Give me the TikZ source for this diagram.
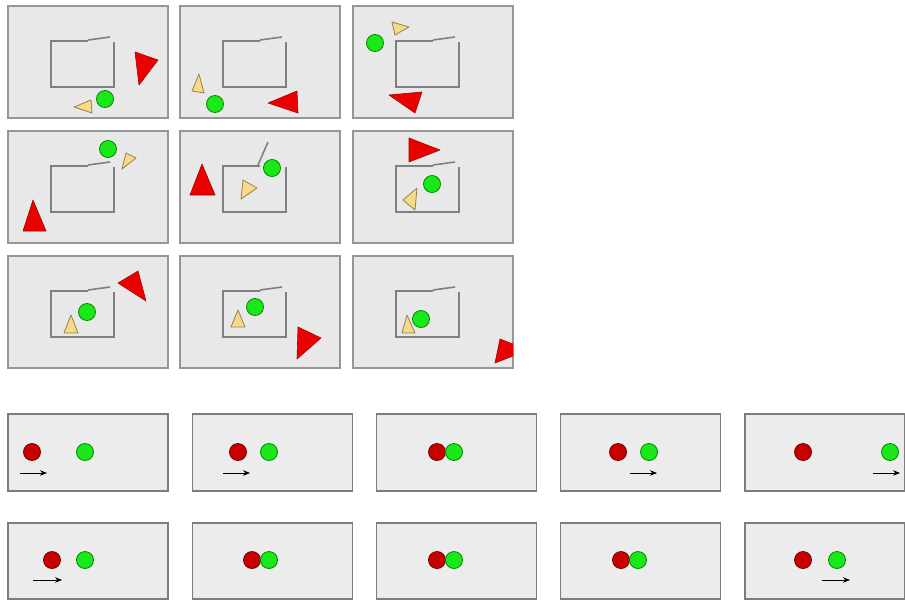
\documentclass[tikz,border=0pt]{standalone}
\usepackage{xcolor}
\usepackage{tikz}
\usetikzlibrary{arrows.meta}

\definecolor{panelgray}{RGB}{232,232,232}
\definecolor{panelline}{RGB}{150,150,150}
\definecolor{crateline}{RGB}{128,128,128}
\definecolor{hunterred}{RGB}{235,0,0}
\definecolor{hunterline}{RGB}{165,0,0}
\definecolor{preyyellow}{RGB}{247,218,135}
\definecolor{preyline}{RGB}{150,128,80}
\definecolor{ballgreen}{RGB}{25,232,25}
\definecolor{ballline}{RGB}{0,135,0}
\definecolor{slabgray}{RGB}{236,236,236}
\definecolor{slabline}{RGB}{125,125,125}
\definecolor{ballred}{RGB}{200,0,0}
\definecolor{ballredline}{RGB}{115,0,0}

\begin{document}
\begin{tikzpicture}[x=1pt,y=-1pt,
    panel/.style={draw=panelline, fill=panelgray, line width=1.2pt},
    crate/.style={draw=crateline, line width=1.6pt},
    hunter/.style={draw=hunterline, fill=hunterred, line width=0.6pt, line join=round},
    prey/.style={draw=preyline, fill=preyyellow, line width=0.8pt, line join=round},
    ball/.style={draw=ballline, fill=ballgreen, line width=0.8pt},
    redball/.style={draw=ballredline, fill=ballred, line width=0.8pt},
    slab/.style={draw=slabline, fill=slabgray, line width=1.2pt},
    move/.style={-{Stealth[length=7pt,width=5.5pt]}, line width=0.8pt}
]
    \useasboundingbox (0,0) rectangle (905,600);

    % chase frames
    \foreach \px/\py in {8/6,180/6,353/6,8/131,180/131,353/131,8/256,180/256,353/256} {
        \draw[panel] (\px,\py) rectangle +(160,112);
        \draw[crate] (\px+80,\py+35) -- (\px+43,\py+35) -- (\px+43,\py+81) -- (\px+106,\py+81) -- (\px+106,\py+36);
    }
    \foreach \px/\py in {8/6,180/6,353/6,8/131,353/131,8/256,180/256,353/256}
        \draw[crate] (\px+80,\py+34) -- (\px+102,\py+31);
    \draw[crate] (258,165) -- (268,142);

    \foreach \ax/\ay/\bx/\by/\cx/\cy in {74/107/91/100/92/113, 199/74/192/91/204/93, 392/22/409/27/395/35,
        126/153/136/158/122/169, 243/180/257/188/241/199, 417/188/403/200/415/210,
        71/315/64/333/78/333, 238/310/231/327/245/327, 407/315/402/333/415/333}
        \draw[prey] (\ax,\ay) -- (\bx,\by) -- (\cx,\cy) -- cycle;

    \foreach \x/\y in {105/99, 215/104, 375/43, 108/149, 272/168, 432/184, 87/312, 255/307, 421/319}
        \draw[ball] (\x,\y) circle[radius=8.5pt];

    \foreach \ax/\ay/\bx/\by/\cx/\cy in {135/52/158/60/139/85, 268/103/297/91/298/113, 389/95/422/92/415/113,
        33/200/23/231/46/231, 202/164/190/195/215/195, 409/138/440/150/409/162,
        118/283/138/271/146/301, 298/327/321/338/297/359}
        \draw[hunter] (\ax,\ay) -- (\bx,\by) -- (\cx,\cy) -- cycle;
    \begin{scope}
        \clip (353,256) rectangle +(160,112);
        \draw[hunter] (500,339) -- (528,350) -- (495,363) -- cycle;
    \end{scope}

    % collision frames
    \foreach \i in {0,...,4} {
        \draw[slab] ({8+184.25*\i},414) rectangle +(160,77);
        \draw[slab] ({8+184.25*\i},523) rectangle +(160,76);
    }
    \foreach \r/\g/\y in {32/85/452, 238/269/452, 437/454/452, 618/649/452, 803/890/452,
        52/85/560, 252/269/560, 437/454/560, 621/638/560, 803/837/560} {
        \draw[redball] (\r,\y) circle[radius=8.5pt];
        \draw[ball] (\g,\y) circle[radius=8.5pt];
    }
    \foreach \a/\b/\y in {20/47/473, 223/250/473, 630/657/473, 873/900/473, 33/62/580, 822/850/580}
        \draw[move] (\a,\y) -- (\b,\y);
\end{tikzpicture}
\end{document}
